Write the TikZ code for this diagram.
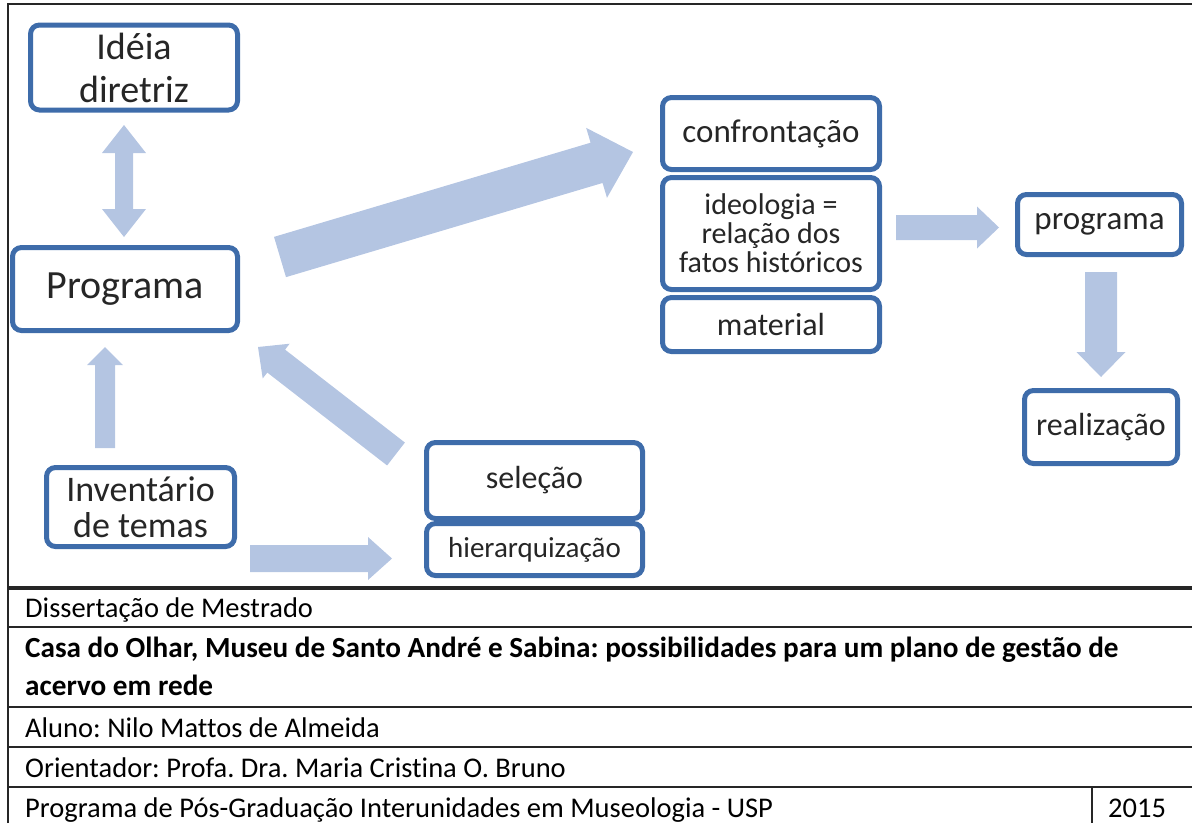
\documentclass[tikz,border=0pt]{standalone}
\usepackage{fontspec}
\setmainfont{Carlito}[Ligatures=NoCommon]
\usetikzlibrary{positioning,calc}
\frenchspacing

\definecolor{boxblue}{RGB}{62,108,170}
\definecolor{arrowblue}{RGB}{180,197,226}

\tikzset{
	box/.style={draw=boxblue, line width=5pt, rounded corners=9pt, fill=white, align=center, inner sep=2pt, text=black!85},
	fatarrow/.style={fill=arrowblue, draw=none},
	rule/.style={line width=2.5pt, black!85},
	footer/.style={anchor=base west, inner sep=0pt, font=\fontsize{28.5}{30}\selectfont},
}

% tail, tip, shaft half width, head half width, head length
\newcommand{\blockarrow}[5]{%
	\coordinate (ba) at ($(#2)!#5!(#1)$);
	\fill[fatarrow] ($(#1)!#3!90:(#2)$) -- ($(ba)!#3!90:(#2)$) -- ($(ba)!#4!90:(#2)$) -- (#2)
		-- ($(ba)!#4!-90:(#2)$) -- ($(ba)!#3!-90:(#2)$) -- ($(#1)!#3!-90:(#2)$) -- cycle;
}

\begin{document}
\begin{tikzpicture}[x=1pt, y=-1pt]
	\useasboundingbox (0,0) rectangle (1192,823);

	\node[box, minimum width=207pt, minimum height=85pt, font=\fontsize{38}{43}\selectfont] (idea) at (134,67.5) {Idéia\\diretriz};
	\node[box, minimum width=225pt, minimum height=83pt, font=\fontsize{40}{44}\selectfont] (prog) at (125,289) {Programa};
	\node[box, minimum width=188pt, minimum height=79pt, font=\fontsize{36}{36}\selectfont] (invent) at (140.5,507) {Inventário\\de temas};

	\node[box, minimum width=216pt, minimum height=76pt, font=\fontsize{32}{34}\selectfont] (selec) at (534.5,480.5) {seleção};
	\node[box, minimum width=216pt, minimum height=52pt, font=\fontsize{29}{30}\selectfont] (hier) [below=0pt of selec] {hierarquização};

	\node[box, minimum width=217pt, minimum height=72pt, font=\fontsize{33}{34}\selectfont] (confr) at (771,133.5) {confrontação};
	\node[box, minimum width=217pt, minimum height=112pt, font=\fontsize{30}{29}\selectfont] (ideol) [below=3pt of confr] {ideologia =\\relação dos\\fatos históricos};
	\node[box, minimum width=217pt, minimum height=54pt, font=\fontsize{32}{34}\selectfont] (mater) [below=3pt of ideol] {material};

	\node[box, minimum width=164pt, minimum height=60pt, font=\fontsize{33}{34}\selectfont] (progr) at (1099.5,224.5) {programa};
	\node[box, minimum width=153pt, minimum height=73pt, font=\fontsize{32}{34}\selectfont] (realiz) at (1101,427) {realização};

	\coordinate (idea-prog) at (124,181);
	\coordinate (idea-tip) at (124,125);
	\coordinate (prog-tip) at (124,237);
	\coordinate (invent-up) at (105,448);
	\coordinate (invent-tip) at (105,347);
	\coordinate (selec-tail) at (396,454);
	\coordinate (selec-tip) at (258,347);
	\coordinate (prog-tail) at (280,257);
	\coordinate (confr-tip) at (633,152);
	\coordinate (ideol-tail) at (896,227.5);
	\coordinate (progr-tip) at (999,227.5);
	\coordinate (progr-tail) at (1101,272);
	\coordinate (realiz-tip) at (1101,377);
	\coordinate (invent-tail) at (250,558.5);
	\coordinate (hier-tip) at (392,558.5);

	\blockarrow{idea-prog}{idea-tip}{9pt}{22pt}{28pt}
	\blockarrow{idea-prog}{prog-tip}{9pt}{22pt}{28pt}
	\blockarrow{invent-up}{invent-tip}{10pt}{18pt}{18pt}
	\blockarrow{selec-tail}{selec-tip}{14.5pt}{22pt}{23pt}
	\blockarrow{prog-tail}{confr-tip}{21pt}{36.5pt}{38pt}
	\blockarrow{ideol-tail}{progr-tip}{12.5pt}{21pt}{22pt}
	\blockarrow{progr-tail}{realiz-tip}{16pt}{24.5pt}{25pt}
	\blockarrow{invent-tail}{hier-tip}{13.5pt}{21.5pt}{24pt}

	% frame and footer table
	\draw[rule, line width=2pt] (8,823) -- (8,4) -- (1192,4);
	\draw[rule, line width=4pt] (8,588) -- (1192,588);
	\foreach \y in {627,707,747,787}
		\draw[rule] (8,\y) -- (1192,\y);
	\draw[rule] (1092,787) -- (1092,823);

	\node[footer] (diss) at (25,617) {Dissertação de Mestrado};
	\node[footer, font=\fontsize{29.2}{30}\selectfont\bfseries] (title1) at (25,657) {Casa do Olhar, Museu de Santo André e Sabina: possibilidades para um plano de gestão de};
	\node[footer, font=\fontsize{29.2}{30}\selectfont\bfseries] (title2) at (25,695) {acervo em rede};
	\node[footer] (aluno) at (25,737) {Aluno: Nilo Mattos de Almeida};
	\node[footer] (orient) at (25,777) {Orientador: Profa. Dra. Maria Cristina O. Bruno};
	\node[footer] (ppg) at (25,817) {Programa de Pós-Graduação Interunidades em Museologia - USP};
	\node[footer] (year) at (1108,817) {2015};
\end{tikzpicture}
\end{document}
